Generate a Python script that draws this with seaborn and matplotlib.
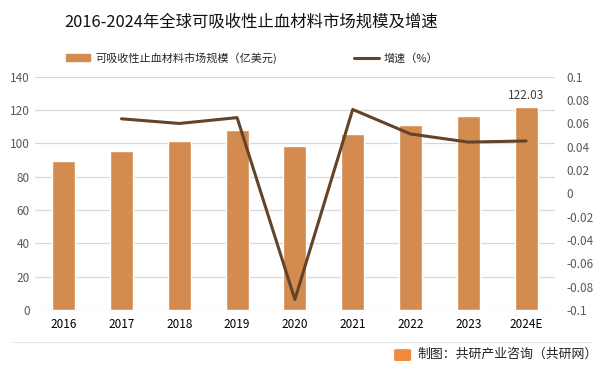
import numpy as np
import pandas as pd
import seaborn as sns
import matplotlib.pyplot as plt
from matplotlib.patches import Patch, FancyBboxPatch
from matplotlib.lines import Line2D

years = ['2016', '2017', '2018', '2019', '2020', '2021', '2022', '2023', '2024E']
market_size = [89.6, 95.6, 101.6, 108.2, 98.6, 105.8, 111.2, 116.2, 122.03]
growth = [np.nan, 0.064, 0.060, 0.065, -0.091, 0.072, 0.051, 0.044, 0.045]

bar_color = '#D38B4F'
line_color = '#634329'

sns.set_style('white')
plt.rcParams['font.family'] = ['Noto Sans CJK SC', 'DejaVu Sans']
plt.rcParams['axes.unicode_minus'] = False

df = pd.DataFrame({'year': years, 'size': market_size, 'growth': growth})

fig = plt.figure(figsize=(6, 3.73), dpi=100)
ax = fig.add_axes([0.058, 0.169, 0.867, 0.625])

sns.barplot(data=df, x='year', y='size', order=years, color=bar_color,
            width=0.4, saturation=1, ax=ax)
ax.set_ylim(0, 140)
ax.set_yticks(range(0, 141, 20))
ax.set_xlim(-0.5, len(years) - 0.5)
ax.yaxis.grid(True, color='#D9D9D9', linewidth=0.9)
ax.set_axisbelow(True)
ax.set_xlabel('')
ax.set_ylabel('')
for s in ax.spines.values():
    s.set_visible(False)
ax.tick_params(axis='both', length=0, labelsize=8.5, colors='#595959')
ax.tick_params(axis='x', pad=6, colors='#000000')

ax.text(len(years) - 1, market_size[-1] + 3, f'{market_size[-1]:.2f}',
        ha='center', va='bottom', fontsize=8.5, color='#404040')

ax2 = ax.twinx()
sns.pointplot(data=df, x='year', y='growth', order=years, color=line_color,
              markers='', errorbar=None, linewidth=2.2, ax=ax2)
ax2.set_ylim(-0.1, 0.1)
ax2.set_yticks(np.round(np.arange(-0.1, 0.1001, 0.02), 2))
ax2.set_yticklabels(['-0.1', '-0.08', '-0.06', '-0.04', '-0.02', '0',
                     '0.02', '0.04', '0.06', '0.08', '0.1'])
ax2.set_xlim(-0.5, len(years) - 0.5)
ax2.set_xlabel('')
ax2.set_ylabel('')
for s in ax2.spines.values():
    s.set_visible(False)
ax2.tick_params(axis='y', length=0, labelsize=8.5, colors='#595959', pad=8)

fig.text(0.418, 0.94, '2016-2024年全球可吸收性止血材料市场规模及增速',
         ha='center', va='center', fontsize=11.8, color='#111111')

handles = [Patch(color=bar_color), Line2D([0], [0], color=line_color, lw=2.2)]
labels = ['可吸收性止血材料市场规模（亿美元)', '增速（%）']
fig.legend(handles, labels, loc='center', bbox_to_anchor=(0.42, 0.845),
           ncol=2, frameon=False, fontsize=8, columnspacing=7,
           handlelength=2.2, handleheight=0.6, handletextpad=0.4)

fig.add_artist(Line2D([0.02, 0.985], [0.083, 0.083], color='#E6E6E6', lw=0.8))
fig.add_artist(FancyBboxPatch((0.660, 0.036), 0.022, 0.024,
                              boxstyle='round,pad=0.002', color='#F08A3C',
                              transform=fig.transFigure))
fig.text(0.695, 0.049, '制图：共研产业咨询（共研网）', ha='left', va='center',
         fontsize=9.3, color='#222222')

fig.savefig('out.png', dpi=100)
